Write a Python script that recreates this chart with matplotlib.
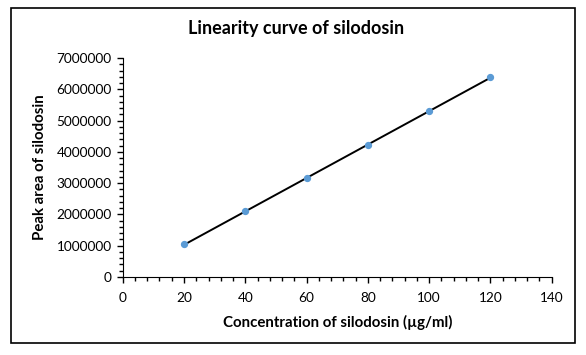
import numpy as np
import matplotlib.pyplot as plt
from matplotlib.patches import Rectangle
from matplotlib.ticker import MultipleLocator

conc = [20, 40, 60, 80, 100, 120]
area = [1045000, 2100000, 3150000, 4210000, 5300000, 6390000]

plt.rcParams['font.family'] = ['Lato', 'DejaVu Sans']

fig = plt.figure(figsize=(5.86, 3.55), dpi=100)
fig.patches.append(Rectangle((0.018, 0.033), 0.964, 0.945, transform=fig.transFigure,
                             fill=False, edgecolor='black', linewidth=1.2))
ax = fig.add_axes([0.2094, 0.2197, 0.7321, 0.6169])

# linear trendline over the data range
k, b = np.polyfit(conc, area, 1)
xs = np.array([conc[0], conc[-1]])
ax.plot(xs, k * xs + b, color='black', linewidth=1.4, zorder=2)
ax.scatter(conc, area, s=18, color='#5B9BD5', zorder=3)

ax.set_xlim(0, 140)
ax.set_ylim(0, 7000000)
ax.xaxis.set_major_locator(MultipleLocator(20))
ax.xaxis.set_minor_locator(MultipleLocator(4))
ax.yaxis.set_major_locator(MultipleLocator(1000000))
ax.yaxis.set_minor_locator(MultipleLocator(200000))
ax.spines['top'].set_visible(False)
ax.spines['right'].set_visible(False)
ax.tick_params(axis='both', which='major', length=4, width=1, labelsize=9.8, pad=4)
ax.tick_params(axis='x', which='major', pad=7)
ax.tick_params(axis='both', which='minor', length=3, width=1)
ax.yaxis.set_major_formatter(plt.FuncFormatter(lambda v, p: f"{int(v)}"))

fig.text(0.506, 0.921, "Linearity curve of silodosin", fontsize=13, fontweight='bold',
         ha='center', va='center')
ax.set_xlabel("Concentration of silodosin (\u00b5g/ml)", fontsize=10.8, fontweight='bold', labelpad=8)
ax.set_ylabel("Peak area of silodosin", fontsize=10.8, fontweight='bold', labelpad=7)

fig.savefig("out.png", dpi=100)
